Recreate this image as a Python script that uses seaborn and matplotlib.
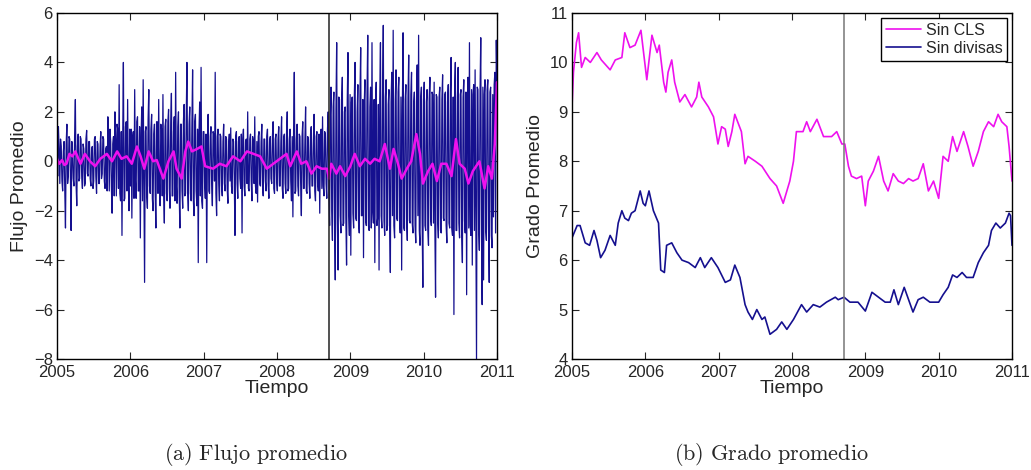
import numpy as np
import pandas as pd
import matplotlib
matplotlib.use("Agg")
import matplotlib.pyplot as plt
import seaborn as sns

# --- Flujo promedio (serie semanal) ---
flujo_2005 = [0.3, 1.4, -0.9, 0.6, -1.2, 0.8, -2.7, 1.5, -0.6, 0.9, -2.8, 0.4, -1.0, 2.5, -1.8, 1.1,
              -0.7, 0.9, -1.1, 0.5, -0.9, 1.25, -0.6, 0.8, -1.0, 0.6, -0.8, 1.0, -1.3, 0.7, -0.9, 1.2,
              -0.5, 0.9, -1.1, 0.6, 1.8, -1.2, 0.8, -2.1, 1.0, 2.0, -1.4, 1.3, 3.1, -1.6, -3.0, 4.0,
              -1.5, 1.6, 2.5, -2.0]
flujo_2006 = [-1.0, -2.3, 1.2, 2.9, -1.5, 1.8, -1.2, -3.1, 2.2, 3.3, -4.9, 1.4, -1.9, 2.9, -1.3, 1.9,
              -2.0, 1.5, -2.7, 1.6, 2.5, -1.8, 1.3, 2.7, -2.5, 1.7, -1.6, 2.1, -1.9, 2.75, -1.4, 1.8,
              3.6, -1.7, 2.0, -2.7, 1.5, -1.9, 2.3, -1.3, 4.0, -2.0, 2.2, -1.6, 3.7, -2.2, 1.9, -1.8,
              -4.1, 2.4, 3.8, -1.9]
flujo_2007 = [1.2, -1.5, -4.1, 1.9, -1.3, 1.4, -1.8, 1.1, 3.6, -2.2, 1.3, -1.6, 1.0, -1.4, 1.5, -1.2,
              0.9, -1.7, 1.1, 1.35, -1.3, 0.8, -3.0, 1.2, -1.5, 1.0, -1.1, -2.9, 1.3, -1.4, 0.9, 2.0,
              -1.2, 1.1, -1.6, 0.8, 1.8, -1.3, -1.65, 1.2, -1.0, 1.5, -1.4, 0.9, -1.2, 1.3, -1.5, 1.0,
              -0.9, 1.6, -1.3, 1.1]
flujo_2008 = [-1.2, 1.4, -1.0, 1.8, -1.5, 1.1, -1.3, 2.0, -1.1, 1.3, -1.6, -2.25, 3.6, -1.2, 1.5, -1.4,
              1.0, -2.2, 1.6, -1.1, 2.2, -1.3, 0.9, -1.5, 1.4, -1.0, 1.9, -1.6, 1.2, -1.2, -2.1, 1.3,
              1.8, -1.4, 1.1, -1.5, 2.0, -2.6, 3.0, -3.2, 2.8, -4.8, 4.8, -4.4, 2.5, -2.9, 3.4, -2.5,
              2.2, -4.2, 4.4, -3.0]
flujo_2009 = [-3.8, 2.6, -2.7, 4.0, -2.4, 3.1, -2.9, 4.6, -2.2, -3.9, 3.3, -2.6, 5.1, -2.8, 3.0, 4.8,
              -2.5, -4.1, 3.2, -2.3, -4.4, 4.8, -2.7, 5.5, -3.0, 3.3, -2.6, 2.9, -4.5, 3.6, 5.3, -3.1,
              3.7, -2.4, 3.4, -2.9, -4.4, 5.2, -2.8, 3.1, -3.2, 4.3, -2.5, 3.6, -2.9, 2.8, -3.3, 3.9,
              5.1, -3.4, 3.0, -5.1]
flujo_2010 = [3.2, -2.8, 2.9, -3.4, 3.4, -2.6, 2.7, 3.2, -5.5, 2.6, -3.1, 3.0, -2.9, 3.5, -2.4, 2.8,
              -3.3, 3.1, -2.7, 4.2, -3.0, -6.2, 4.0, -2.8, 3.8, -3.1, 2.9, -4.1, 3.3, -2.9, -5.4, 3.4,
              4.8, -3.0, -4.2, 3.1, 3.7, -8.0, 2.9, -3.6, 5.0, -5.8, -4.8, 3.3, -3.2, 3.3, -4.9, 3.0,
              -3.5, -2.25, 3.6, 4.9]

# valores a mitad de semana
flujo_2005b = [-0.6, 0.5, 0.9, -0.8, 0.4, -1.1, 0.7, -0.9, 1.0, -0.5, 0.8, -0.7, 1.1, -0.9, 0.6, -0.8,
               1.0, -0.6, 0.7, -1.0, 0.9, -0.5, 0.8, -0.7, 0.5, -1.1, 0.9, -0.6, 0.8, -0.9, 0.6, -0.7,
               1.0, -0.8, 0.5, -1.2, 0.9, 1.3, -1.0, 0.7, -1.4, 0.9, 1.5, -1.1, -1.3, 1.2, 0.8, -1.6,
               1.4, -1.2, -0.9, 1.3]
flujo_2006b = [1.3, 0.9, -1.5, -0.8, 1.6, -1.2, 1.4, 0.9, -1.6, -1.1, 1.2, -1.4, 1.7, -1.0, 1.3, -1.5,
               1.1, -1.2, 1.6, -1.3, -0.9, 1.5, -1.4, -1.2, 1.4, -1.3, 1.6, -1.1, 1.5, -1.4, 1.2, -1.6,
               -1.0, 1.4, -1.3, 1.5, -1.2, 1.6, -1.4, 1.8, -1.2, 1.5, -1.3, 1.4, -1.5, 1.6, -1.2, 1.3,
               1.1, -1.4, -1.6, 1.2]
flujo_2007b = [-0.9, 1.1, 0.8, -1.2, 1.0, -0.9, 1.2, -0.8, -1.3, 1.0, -0.9, 1.1, -1.0, 0.8, -0.9, 1.0,
               -1.1, 0.7, -0.8, -1.0, 0.9, -0.7, 1.0, -0.9, 0.8, -0.7, 1.1, 0.9, -1.0, 0.8, -0.9, -1.1,
               0.9, -0.8, 1.0, -0.9, -1.0, 0.8, 1.0, -0.9, 0.8, -1.0, 0.9, -0.8, 1.0, -0.9, 0.8, -0.7,
               1.0, -1.1, 0.9, -0.8]
flujo_2008b = [0.9, -1.0, 0.8, -1.1, 1.0, -0.9, 1.1, -1.2, 0.9, -0.8, 1.0, 1.2, -1.3, 0.9, -1.0, 1.1,
               -0.9, 1.0, -1.1, 0.8, -1.2, 1.0, -0.9, 1.1, -1.0, 0.8, -1.2, 1.0, -0.9, 1.1, 1.0, -1.1,
               -1.0, 1.2, -0.9, 1.3, -1.4, 1.8, -2.0, 2.2, -2.4, 2.1, -2.5, 2.6, -2.2, 2.4, -2.6, 2.0,
               -2.3, 2.5, -2.1, 2.7]
flujo_2009b = [2.4, -2.1, 2.6, -2.3, 2.0, -2.5, 2.7, -2.2, 2.5, 2.3, -2.4, 2.8, -2.6, 2.2, -2.7, -2.0,
               2.5, 2.4, -2.6, 2.3, 2.5, -2.2, 2.7, -2.4, 2.6, -2.8, 2.3, -2.5, 2.4, -2.2, -2.6, 2.5,
               -2.3, 2.8, -2.4, 2.6, 2.2, -2.7, 2.5, -2.3, 2.6, -2.4, 2.7, -2.5, 2.3, -2.6, 2.4, -2.2,
               -2.8, 2.6, -2.4, 2.5]
flujo_2010b = [-2.6, 2.4, -2.7, 2.5, -2.3, 2.8, -2.5, -2.6, 2.7, -2.4, 2.6, -2.8, 2.5, -2.3, 2.7, -2.6,
               2.4, -2.5, 2.8, -2.7, 2.6, 2.9, -2.8, 2.6, -2.5, 2.7, -2.9, 2.6, -2.4, 2.8, 2.5, -2.7,
               -2.6, 2.9, 2.7, -2.8, -2.6, 3.0, -2.7, 2.8, -2.9, 3.0, 2.7, -2.8, 2.9, -2.6, 2.8, -3.0,
               2.7, 3.1, -2.9, 2.8]

# --- Promedio móvil del flujo ---
t_movil = [2005.0, 2005.03, 2005.07, 2005.1, 2005.13, 2005.17, 2005.21, 2005.25, 2005.32, 2005.38,
           2005.45, 2005.52, 2005.59, 2005.68, 2005.75, 2005.82, 2005.88, 2005.95,
           2006.02, 2006.09, 2006.14, 2006.19, 2006.25, 2006.31, 2006.36, 2006.45, 2006.52, 2006.59,
           2006.63, 2006.70, 2006.75, 2006.79, 2006.84, 2006.91, 2006.97,
           2007.02, 2007.13, 2007.22, 2007.31, 2007.40, 2007.50, 2007.59, 2007.68, 2007.77, 2007.86,
           2007.95,
           2008.04, 2008.13, 2008.18, 2008.27, 2008.33, 2008.40, 2008.47, 2008.54, 2008.61, 2008.68,
           2008.71, 2008.74, 2008.81, 2008.86, 2008.93,
           2009.00, 2009.06, 2009.13, 2009.20, 2009.27, 2009.33, 2009.40, 2009.47, 2009.54, 2009.59,
           2009.65, 2009.70, 2009.77, 2009.83, 2009.90, 2009.95, 2009.99,
           2010.06, 2010.12, 2010.18, 2010.24, 2010.31, 2010.38, 2010.44, 2010.49, 2010.56, 2010.61,
           2010.67, 2010.76, 2010.83, 2010.88, 2010.93, 2010.97, 2011.0]
flujo_movil = [0.1, -0.1, 0.05, -0.15, -0.1, 0.3, 0.2, 0.4, -0.1, 0.3,
               0.0, -0.2, 0.1, 0.3, 0.0, 0.4, 0.1, 0.2,
               -0.1, 0.6, 0.2, -0.3, 0.4, 0.0, 0.05, -0.7, 0.0, 0.4,
               -0.3, -0.7, 0.4, 0.8, 0.4, 0.5, 0.6,
               -0.2, -0.3, -0.1, -0.2, 0.2, 0.0, 0.4, 0.3, 0.2, -0.3,
               -0.1,
               0.1, 0.3, -0.2, 0.4, -0.1, 0.0, -0.5, -0.2, -0.3, -0.3,
               -0.7, -0.1, -0.5, -0.2, -0.6,
               -0.2, 0.3, -0.2, 0.1, -0.1, 0.1, 0.0, 0.7, -0.3, 0.5,
               -0.1, -0.7, -0.3, 0.0, 1.1, 0.3, -0.9,
               -0.4, -0.1, -0.8, -0.1, -0.1, -0.6, 0.9, -0.1, -0.3, -0.9,
               -0.4, 0.0, -1.1, -0.2, -0.7, 0.7, 3.2]

# --- Grado promedio ---
t_cls = [2005.0, 2005.02, 2005.06, 2005.09, 2005.13, 2005.18, 2005.25, 2005.34, 2005.40, 2005.52,
         2005.59, 2005.68, 2005.72, 2005.79, 2005.86, 2005.94, 2006.02, 2006.09, 2006.16, 2006.19,
         2006.25, 2006.28, 2006.31, 2006.36, 2006.40, 2006.47, 2006.54, 2006.63, 2006.70, 2006.73,
         2006.77, 2006.86, 2006.93, 2006.99, 2007.04, 2007.09, 2007.13, 2007.18, 2007.22, 2007.31,
         2007.36, 2007.40, 2007.50, 2007.59, 2007.70, 2007.79, 2007.88, 2007.97, 2008.02, 2008.06,
         2008.15, 2008.20, 2008.25, 2008.34, 2008.43, 2008.54, 2008.61, 2008.68, 2008.72, 2008.77,
         2008.81, 2008.88, 2008.95, 2009.00, 2009.04, 2009.11, 2009.18, 2009.25, 2009.31, 2009.38,
         2009.45, 2009.52, 2009.59, 2009.65, 2009.72, 2009.79, 2009.86, 2009.93, 2010.00, 2010.06,
         2010.13, 2010.19, 2010.25, 2010.34, 2010.40, 2010.47, 2010.54, 2010.61, 2010.68, 2010.75,
         2010.81, 2010.86, 2010.93, 2010.96, 2011.0]
grado_cls = [9.1, 9.8, 10.4, 10.6, 9.9, 10.1, 10.0, 10.2, 10.05, 9.85,
             10.05, 10.1, 10.6, 10.3, 10.35, 10.65, 9.65, 10.55, 10.2, 10.35,
             9.6, 9.4, 9.8, 10.05, 9.6, 9.2, 9.35, 9.1, 9.3, 9.6,
             9.3, 9.1, 8.9, 8.35, 8.7, 8.65, 8.3, 8.6, 8.95, 8.6,
             7.95, 8.1, 8.0, 7.9, 7.65, 7.5, 7.15, 7.6, 8.0, 8.6,
             8.6, 8.8, 8.6, 8.85, 8.5, 8.5, 8.6, 8.35, 8.35, 7.9,
             7.7, 7.65, 7.7, 7.1, 7.6, 7.8, 8.1, 7.6, 7.4, 7.75,
             7.6, 7.55, 7.65, 7.6, 7.65, 7.95, 7.4, 7.6, 7.25, 8.1,
             8.0, 8.5, 8.2, 8.6, 8.3, 7.9, 8.2, 8.6, 8.8, 8.7,
             8.95, 8.8, 8.7, 8.3, 7.6]

t_div = [2005.0, 2005.07, 2005.11, 2005.18, 2005.24, 2005.30, 2005.34, 2005.39, 2005.45, 2005.52,
         2005.59, 2005.63, 2005.68, 2005.72, 2005.77, 2005.81, 2005.86, 2005.93, 2005.97, 2006.00,
         2006.05, 2006.11, 2006.18, 2006.21, 2006.26, 2006.29, 2006.36, 2006.43, 2006.50, 2006.59,
         2006.68, 2006.75, 2006.81, 2006.90, 2006.99, 2007.09, 2007.16, 2007.22, 2007.29, 2007.36,
         2007.40, 2007.46, 2007.52, 2007.59, 2007.63, 2007.70, 2007.79, 2007.86, 2007.93, 2008.02,
         2008.13, 2008.20, 2008.29, 2008.38, 2008.47, 2008.59, 2008.63, 2008.71, 2008.79, 2008.90,
         2009.00, 2009.09, 2009.18, 2009.27, 2009.34, 2009.39, 2009.45, 2009.53, 2009.59, 2009.65,
         2009.72, 2009.79, 2009.88, 2010.00, 2010.06, 2010.13, 2010.19, 2010.25, 2010.32, 2010.38,
         2010.47, 2010.54, 2010.61, 2010.68, 2010.72, 2010.78, 2010.84, 2010.91, 2010.96, 2010.98,
         2011.0]
grado_div = [6.45, 6.7, 6.7, 6.35, 6.3, 6.6, 6.4, 6.05, 6.2, 6.5,
             6.3, 6.75, 7.0, 6.85, 6.8, 6.95, 7.0, 7.4, 7.15, 7.1,
             7.4, 7.0, 6.75, 5.8, 5.75, 6.3, 6.35, 6.15, 6.0, 5.95,
             5.85, 6.05, 5.85, 6.05, 5.85, 5.55, 5.6, 5.9, 5.65, 5.1,
             4.95, 4.8, 5.0, 4.8, 4.85, 4.5, 4.6, 4.75, 4.6, 4.8,
             5.1, 4.95, 5.1, 5.05, 5.15, 5.25, 5.2, 5.25, 5.15, 5.15,
             4.97, 5.35, 5.25, 5.15, 5.15, 5.4, 5.1, 5.45, 5.2, 4.95,
             5.2, 5.25, 5.15, 5.15, 5.3, 5.45, 5.7, 5.65, 5.75, 5.65,
             5.65, 5.95, 6.15, 6.3, 6.6, 6.75, 6.65, 6.75, 6.95, 6.9,
             6.3]

crisis = 2008.71  # quiebra de Lehman Brothers
azul = "#15108f"
magenta = "#ee11ee"

sns.set_style("ticks", {"xtick.direction": "in", "ytick.direction": "in"})
plt.rcParams["font.family"] = ["Liberation Sans", "DejaVu Sans"]
plt.rcParams["mathtext.fontset"] = "cm"

semana = np.concatenate([flujo_2005, flujo_2006, flujo_2007, flujo_2008, flujo_2009, flujo_2010])
media_semana = np.concatenate([flujo_2005b, flujo_2006b, flujo_2007b, flujo_2008b, flujo_2009b, flujo_2010b])
flujo = np.empty(2 * len(semana))
flujo[0::2] = semana
flujo[1::2] = media_semana
df_flujo = pd.DataFrame({"tiempo": np.linspace(2005, 2011, len(flujo)), "flujo": flujo})

fig = plt.figure(figsize=(10.31, 4.70), dpi=100)
ax1 = fig.add_axes([57 / 1031, 111 / 470, 440 / 1031, 346 / 470])
ax2 = fig.add_axes([572 / 1031, 111 / 470, 440 / 1031, 346 / 470])

sns.lineplot(data=df_flujo, x="tiempo", y="flujo", ax=ax1, color=azul, linewidth=0.9, estimator=None)
sns.lineplot(x=t_movil, y=flujo_movil, ax=ax1, color=magenta, linewidth=1.8, estimator=None)
ax1.axvline(crisis, color="#222222", linewidth=1.1)
ax1.set_ylim(-8, 6)
ax1.set_yticks(range(-8, 7, 2))
ax1.set_ylabel("Flujo Promedio")

sns.lineplot(x=t_cls, y=grado_cls, ax=ax2, color=magenta, linewidth=1.2, estimator=None, label="Sin CLS")
sns.lineplot(x=t_div, y=grado_div, ax=ax2, color=azul, linewidth=1.2, estimator=None, label="Sin divisas")
ax2.axvline(crisis, color="#777777", linewidth=1.1)
ax2.set_ylim(4, 11)
ax2.set_yticks(range(4, 12))
ax2.set_ylabel("Grado Promedio")
leg = ax2.legend(loc="upper right", fontsize=11.5, fancybox=False, framealpha=1,
                 edgecolor="black", borderaxespad=0.3, handlelength=2.2, borderpad=0.3,
                 labelspacing=0.2, handletextpad=0.3)
leg.get_frame().set_linewidth(1.0)

for ax in (ax1, ax2):
    ax.set_xlim(2005, 2011)
    ax.set_xticks(range(2005, 2012))
    ax.set_xlabel("Tiempo", fontsize=14, labelpad=0)
    ax.yaxis.label.set_size(14)
    ax.tick_params(labelsize=12, length=5, width=0.8, top=True, right=True)
    ax.tick_params(axis="x", pad=4)
    ax.tick_params(axis="y", pad=3)
    for s in ax.spines.values():
        s.set_visible(True)
        s.set_color("black")
        s.set_linewidth(1.0)

fig.text(256 / 1031, 1 - 454 / 470, r"$\mathrm{(a)\ Flujo\ promedio}$", ha="center", va="center", fontsize=16)
fig.text(771 / 1031, 1 - 454 / 470, r"$\mathrm{(b)\ Grado\ promedio}$", ha="center", va="center", fontsize=16)

plt.savefig("out.png", dpi=100)
